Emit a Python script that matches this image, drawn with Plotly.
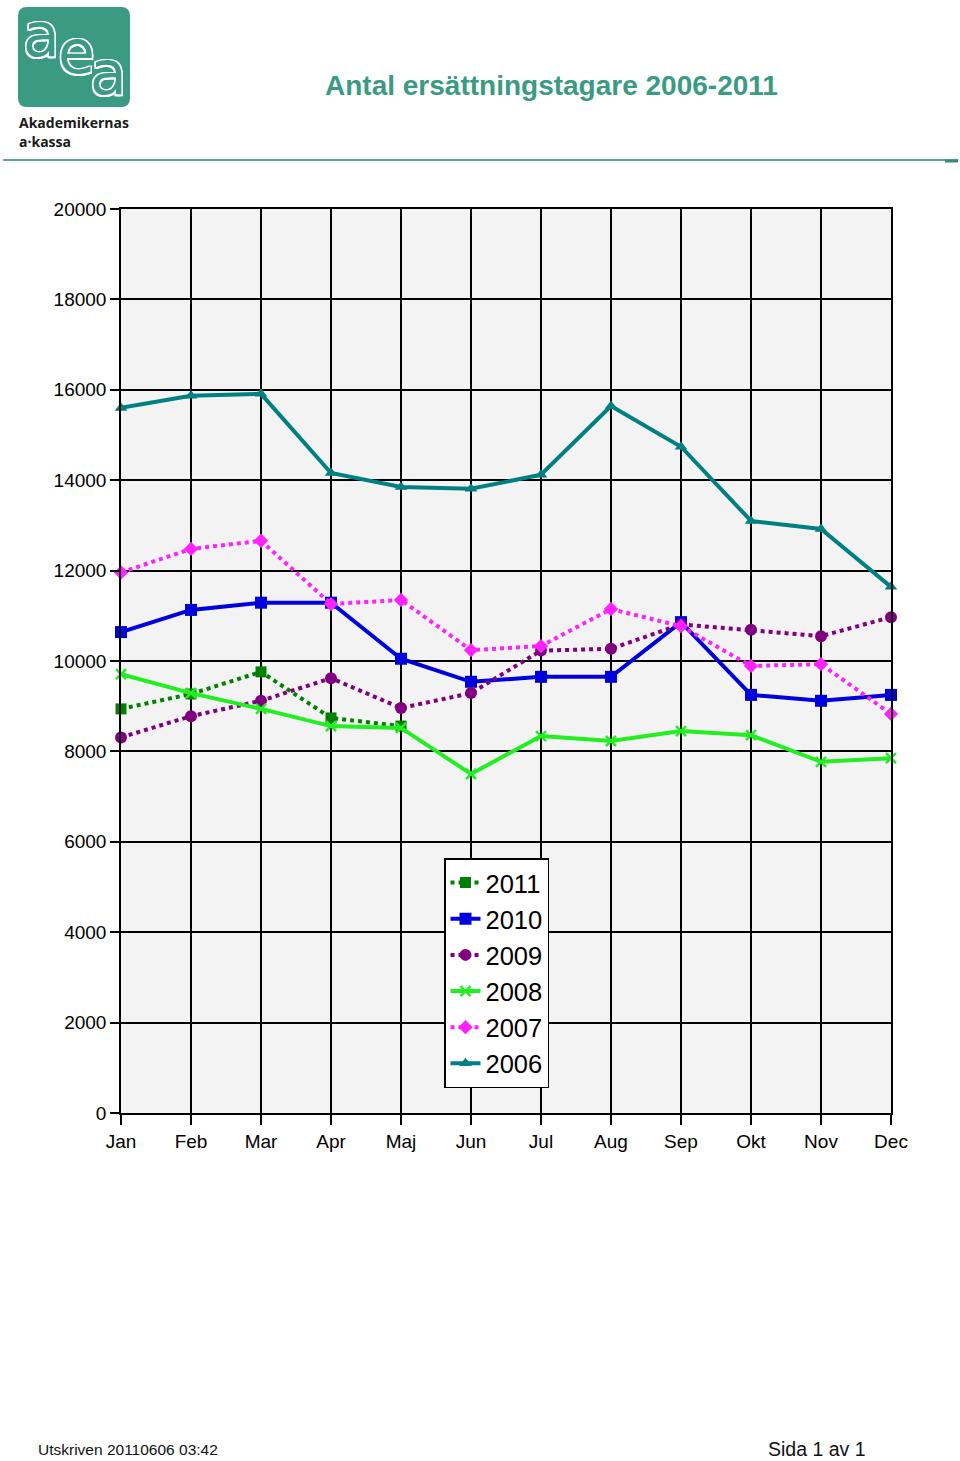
import plotly.graph_objects as go

months = ["Jan", "Feb", "Mar", "Apr", "Maj", "Jun", "Jul", "Aug", "Sep", "Okt", "Nov", "Dec"]
y2011 = [8940, 9270, 9760, 8740, 8560]
y2010 = [10640, 11130, 11290, 11290, 10050, 9540, 9650, 9650, 10860, 9250, 9120, 9250]
y2009 = [8310, 8780, 9120, 9620, 8960, 9290, 10230, 10270, 10810, 10690, 10550, 10970]
y2008 = [9710, 9290, 8940, 8560, 8520, 7500, 8340, 8230, 8450, 8360, 7770, 7850]
y2007 = [11960, 12480, 12660, 11260, 11350, 10240, 10330, 11150, 10770, 9890, 9930, 8830]
y2006 = [15600, 15870, 15910, 14160, 13850, 13810, 14120, 15640, 14740, 13100, 12920, 11640]
ytick_vals = [0, 2000, 4000, 6000, 8000, 10000, 12000, 14000, 16000, 18000, 20000]

W, H = 960, 1461
L, R, T, B = 121, 891, 209, 1113

def px(x):
    return (x - L) / (R - L)

def py(y):
    return (B - y) / (B - T)

series = [
    ("2011", y2011, "#008000", "dot", "square", 11, 0),
    ("2010", y2010, "#0000dd", "solid", "square", 12, 0),
    ("2009", y2009, "#800080", "dot", "circle", 12, 0),
    ("2008", y2008, "#22ee22", "solid", "x-thin", 10, 2.5),
    ("2007", y2007, "#ff22ff", "dot", "diamond", 11, 0),
    ("2006", y2006, "#008080", "solid", "triangle-up", 11, 0),
]

fig = go.Figure()
for name, vals, col, dash, sym, size, lw in series:
    mk = dict(symbol=sym, size=size, color=col)
    if lw:
        mk["line"] = dict(color=col, width=lw)
    fig.add_trace(go.Scatter(
        x=list(range(len(vals))), y=vals, name=name, mode="lines+markers",
        line=dict(color=col, width=4, dash=dash), marker=mk, cliponaxis=False,
    ))

teal = "#3a9a82"
shapes = []
# logo rounded rectangle
x0, x1, y0, y1, r = 18, 130, 7, 107, 9
path = (f"M {px(x0+r)},{py(y0)} L {px(x1-r)},{py(y0)} Q {px(x1)},{py(y0)} {px(x1)},{py(y0+r)} "
        f"L {px(x1)},{py(y1-r)} Q {px(x1)},{py(y1)} {px(x1-r)},{py(y1)} "
        f"L {px(x0+r)},{py(y1)} Q {px(x0)},{py(y1)} {px(x0)},{py(y1-r)} "
        f"L {px(x0)},{py(y0+r)} Q {px(x0)},{py(y0)} {px(x0+r)},{py(y0)} Z")
shapes.append(dict(type="path", xref="paper", yref="paper", path=path,
                   fillcolor=teal, line=dict(width=0), layer="above"))
shapes.append(dict(type="line", xref="paper", yref="paper", x0=px(3), x1=px(958),
                   y0=py(160), y1=py(160), line=dict(color="#5aab96", width=2)))
shapes.append(dict(type="line", xref="paper", yref="paper", x0=px(945), x1=px(958),
                   y0=py(161), y1=py(161), line=dict(color="#3a8a78", width=3)))

outline = "1.5px 1.5px 0 #fff, -1.5px -1.5px 0 #fff, 1.5px -1.5px 0 #fff, -1.5px 1.5px 0 #fff, 0 1.5px 0 #fff, 0 -1.5px 0 #fff, 1.5px 0 0 #fff, -1.5px 0 0 #fff"
annotations = []
for ch, cx, cy in [("a", 41, 35), ("e", 76, 52), ("a", 108, 73)]:
    annotations.append(dict(text=ch, xref="paper", yref="paper", x=px(cx), y=py(cy),
                            showarrow=False, xanchor="center", yanchor="middle",
                            font=dict(family="DejaVu Sans", size=60, color=teal, shadow=outline)))
annotations += [
    dict(text="<b>Akademikernas</b>", xref="paper", yref="paper", x=px(17), y=py(122),
         xanchor="left", yanchor="middle", showarrow=False,
         font=dict(family="Open Sans", size=14, color="#1a1a1a")),
    dict(text="<b>a·kassa</b>", xref="paper", yref="paper", x=px(17), y=py(141),
         xanchor="left", yanchor="middle", showarrow=False,
         font=dict(family="Open Sans", size=14, color="#1a1a1a")),
    dict(text="<b>Antal ersättningstagare 2006-2011</b>", xref="paper", yref="paper",
         x=px(551), y=py(86), xanchor="center", yanchor="middle", showarrow=False,
         font=dict(family="Liberation Sans, Arial", size=28, color=teal)),
    dict(text="Utskriven 20110606 03:42", xref="paper", yref="paper", x=px(36), y=py(1449),
         xanchor="left", yanchor="middle", showarrow=False,
         font=dict(family="Liberation Sans, Arial", size=15.5, color="#111")),
    dict(text="Sida 1 av 1", xref="paper", yref="paper", x=px(766), y=py(1449),
         xanchor="left", yanchor="middle", showarrow=False,
         font=dict(family="Liberation Sans, Arial", size=19.5, color="#111")),
]

fig.update_layout(
    width=W, height=H,
    margin=dict(l=L, r=W - R, t=T, b=H - B, pad=0),
    paper_bgcolor="white", plot_bgcolor="#f3f3f3",
    font=dict(family="Liberation Sans, Arial", size=19, color="black"),
    showlegend=True,
    legend=dict(x=px(444), y=py(858), xanchor="left", yanchor="top",
                bgcolor="white", bordercolor="black", borderwidth=1.5,
                font=dict(size=25.5, color="black"), itemwidth=30,
                tracegroupgap=0),
    shapes=shapes, annotations=annotations,
    xaxis=dict(range=[0, 11], tickmode="array", tickvals=list(range(12)), ticktext=months,
               showgrid=True, gridcolor="black", gridwidth=1.5,
               ticks="outside", ticklen=10, tickwidth=1.5, tickcolor="black",
               showline=True, linecolor="black", linewidth=1.5, mirror=True,
               zeroline=False, fixedrange=True),
    yaxis=dict(range=[0, 20000], tickmode="array", tickvals=ytick_vals,
               ticktext=[str(v) for v in ytick_vals],
               showgrid=True, gridcolor="black", gridwidth=1.5,
               ticks="outside", ticklen=9, tickwidth=1.5, tickcolor="black",
               showline=True, linecolor="black", linewidth=1.5, mirror=True,
               zeroline=False, fixedrange=True),
)

fig.write_html("out.html", config={"displayModeBar": False},
               post_script="document.body.style.margin='0';document.body.style.padding='0';")
